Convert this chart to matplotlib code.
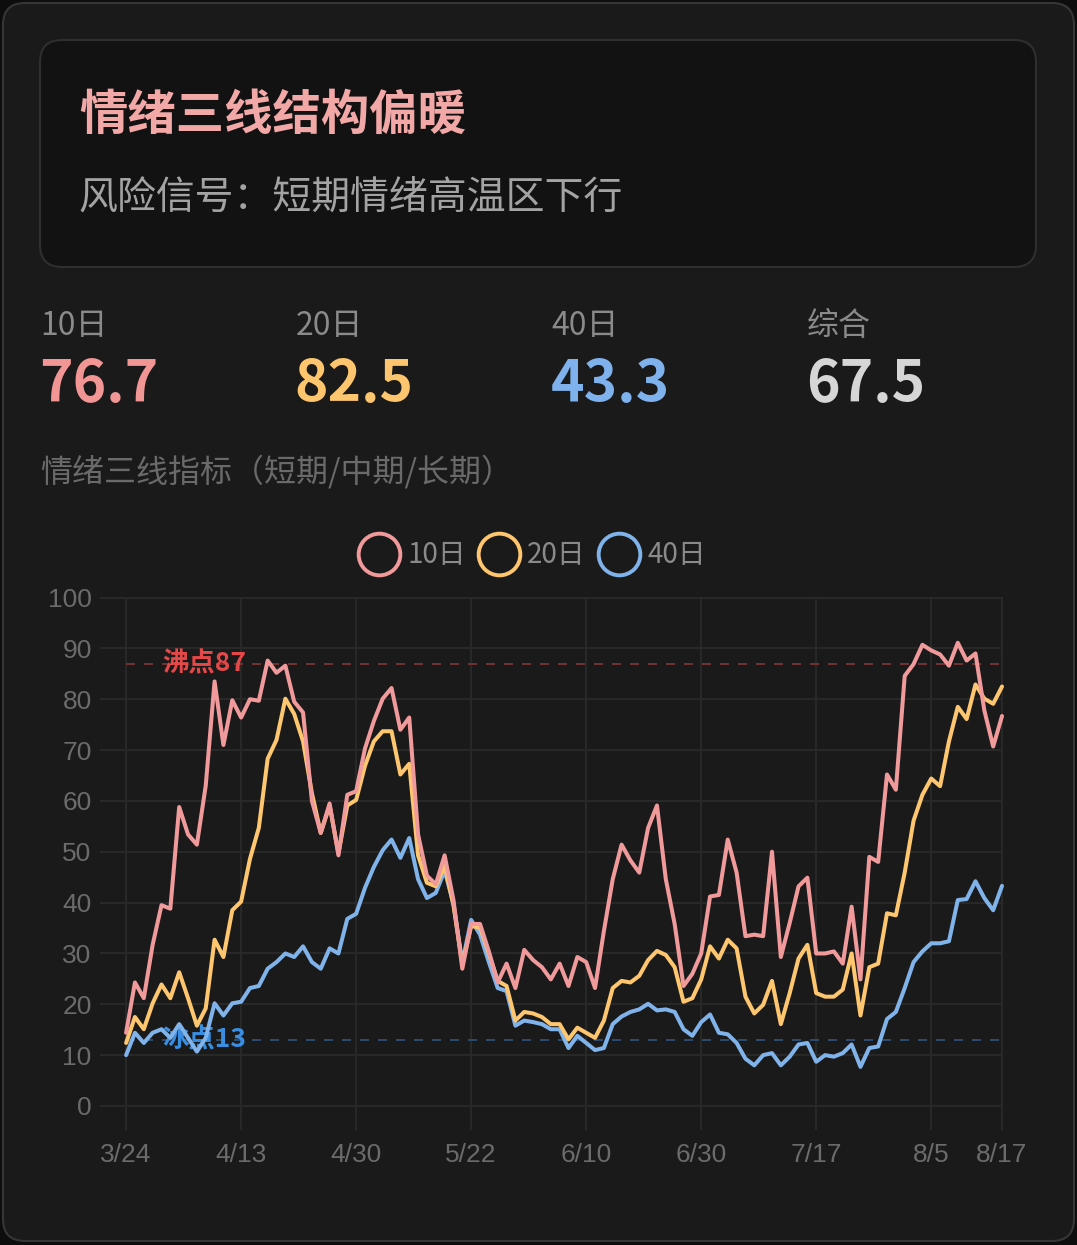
import matplotlib
matplotlib.use("Agg")
import matplotlib.pyplot as plt
from matplotlib.patches import FancyBboxPatch

plt.rcParams['font.family'] = ['Noto Sans CJK SC', 'DejaVu Sans']

# ---- data ----
title = "情绪三线结构偏暖"
subtitle = "风险信号：短期情绪高温区下行"
section_label = "情绪三线指标（短期/中期/长期）"

stat_names = ["10日", "20日", "40日", "综合"]
stat_values = ["76.7", "82.5", "43.3", "67.5"]

series_names = ["10日", "20日", "40日"]

line_10 = [14.4, 24.3, 21.2, 31.7, 39.5, 38.8, 58.8, 53.4, 51.4, 63.0,
           83.5, 71.0, 79.8, 76.4, 80.0, 79.7, 87.6, 85.2, 86.6, 79.5,
           77.4, 60.0, 53.7, 59.5, 49.3, 61.2, 61.9, 70.3, 75.7, 80.1,
           82.2, 74.0, 76.4, 53.4, 45.3, 43.6, 49.3, 40.5, 27.0, 35.8,
           35.8, 30.4, 24.3, 28.0, 23.2, 30.7, 28.7, 27.3, 24.9, 28.0,
           23.6, 29.3, 28.3, 23.2, 34.4, 44.6, 51.4, 48.3, 45.9, 54.7,
           59.1, 44.6, 35.8, 23.6, 26.0, 30.0, 41.2, 41.5, 52.4, 45.9,
           33.4, 33.7, 33.4, 50.0, 29.3, 36.0, 43.2, 44.9, 30.0, 30.0,
           30.4, 28.0, 39.2, 24.9, 49.0, 48.0, 65.2, 62.2, 84.6, 86.9,
           90.7, 89.6, 88.8, 86.6, 91.1, 87.6, 89.0, 77.8, 70.7, 76.7]

line_20 = [12.4, 17.5, 15.1, 20.2, 23.9, 21.2, 26.3, 21.2, 15.8, 19.2,
           32.7, 29.3, 38.5, 40.2, 48.6, 54.7, 68.3, 72.0, 80.1, 77.1,
           71.7, 61.5, 53.7, 59.1, 49.7, 59.1, 60.2, 66.9, 71.7, 73.7,
           73.7, 65.2, 67.3, 49.3, 43.9, 43.2, 47.3, 39.5, 27.8, 35.4,
           35.1, 30.0, 24.6, 23.6, 16.8, 18.5, 18.2, 17.5, 16.1, 16.1,
           13.1, 15.4, 14.4, 13.4, 16.8, 23.2, 24.6, 24.3, 25.6, 28.7,
           30.5, 29.7, 27.3, 20.5, 21.2, 24.9, 31.4, 29.0, 32.7, 31.0,
           21.5, 18.2, 19.9, 24.6, 16.1, 22.2, 29.0, 31.7, 22.2, 21.5,
           21.5, 22.9, 30.0, 17.8, 27.3, 28.0, 37.9, 37.5, 45.9, 56.1,
           61.2, 64.4, 62.9, 71.7, 78.5, 76.1, 82.9, 80.1, 79.1, 82.5]

line_40 = [10.0, 14.4, 12.4, 14.4, 15.1, 13.4, 16.1, 13.4, 10.7, 13.4,
           20.2, 17.8, 20.2, 20.5, 23.2, 23.6, 27.0, 28.3, 30.0, 29.3,
           31.4, 28.3, 27.0, 31.0, 30.0, 36.8, 37.8, 42.9, 47.0, 50.3,
           52.4, 48.8, 52.7, 44.6, 40.9, 41.9, 46.3, 39.8, 28.2, 36.6,
           33.7, 28.3, 23.2, 22.6, 15.8, 16.8, 16.5, 16.1, 15.1, 15.1,
           11.4, 13.8, 12.4, 11.0, 11.4, 16.1, 17.6, 18.5, 19.0, 20.1,
           18.8, 19.0, 18.5, 15.1, 13.8, 16.5, 18.0, 14.4, 14.1, 12.4,
           9.3, 8.0, 10.0, 10.4, 8.0, 9.7, 12.1, 12.4, 8.7, 10.0,
           9.7, 10.4, 12.1, 7.7, 11.4, 11.7, 17.1, 18.5, 23.2, 28.3,
           30.4, 32.0, 32.0, 32.4, 40.5, 40.7, 44.2, 40.9, 38.5, 43.3]

tick_index = [0, 13, 26, 39, 52, 65, 78, 91, 99]
tick_labels = ["3/24", "4/13", "4/30", "5/22", "6/10", "6/30", "7/17", "8/5", "8/17"]

boil_level = 87
freeze_level = 13

# ---- style ----
line_colors = ["#f19a9c", "#fec76f", "#80b3ea"]
stat_colors = ["#f19595", "#fdc56d", "#7fb2ec", "#d6d6d6"]
W, H = 1077, 1245

fig = plt.figure(figsize=(W / 100, H / 100), dpi=100)
fig.patch.set_facecolor("#0d0d0d")

# background layer in pixel coordinates
bg = fig.add_axes([0, 0, 1, 1])
bg.set_xlim(0, W)
bg.set_ylim(H, 0)
bg.axis("off")

bg.add_patch(FancyBboxPatch((3, 3), W - 6, H - 7,
                            boxstyle="round,pad=0,rounding_size=22",
                            fc="#1a1a1a", ec="#363636", lw=1.5))
bg.add_patch(FancyBboxPatch((40, 40), 996, 227,
                            boxstyle="round,pad=0,rounding_size=22",
                            fc="#121212", ec="#2f2f2f", lw=1.5))

bg.text(79, 115, title, fontsize=34.8, fontweight="heavy", color="#f3a8a8", va="center")
bg.text(78, 198, subtitle, fontsize=28, color="#a3a3a3", va="center")

for i, (name, val) in enumerate(zip(stat_names, stat_values)):
    x0 = 40 + i * 255.7
    bg.text(x0, 326, name, fontsize=23, color="#8a8a8a", va="center")
    bg.text(x0 - 1, 385, val, fontsize=41, fontweight="bold", color=stat_colors[i], va="center")

bg.text(40, 472, section_label, fontsize=23, color="#6a6a6a", va="center")

# legend
for i, name in enumerate(series_names):
    cx = 379 + i * 120
    bg.plot([cx], [554], marker="o", ms=30, mfc="none", mec=line_colors[i], mew=2.8)
    bg.text(cx + 28, 555, name, fontsize=20, color="#8a8a8a", va="center", ha="left")

# ---- chart ----
ax = fig.add_axes([100 / W, 1 - 1130 / H, 903 / W, (1130 - 596.5) / H])
ax.set_facecolor("none")
for s in ax.spines.values():
    s.set_visible(False)

n = len(line_10)
x = list(range(n))
ax.set_xlim(-2.95, n - 1 + 0.11)
ax.set_ylim(-4.72, 100.2)

ax.set_yticks(range(0, 101, 10))
ax.set_xticks(tick_index)
ax.set_xticklabels(tick_labels)
ax.grid(True, color="#282828", lw=1.5)
ax.set_axisbelow(True)
ax.tick_params(length=0, colors="#6b6b6b", labelsize=19)
ax.tick_params(axis="y", pad=6)
ax.tick_params(axis="x", pad=9)
for lab in ax.get_xticklabels() + ax.get_yticklabels():
    lab.set_fontfamily("Liberation Sans")

# threshold lines
ax.hlines(boil_level, 0, n - 1, colors="#6e3232", linestyles=(0, (4.5, 4.5)), lw=1.44, zorder=1.5)
ax.hlines(freeze_level, 0, n - 1, colors="#2c4a6e", linestyles=(0, (4.5, 4.5)), lw=1.44, zorder=1.5)
ax.annotate("沸点%d" % boil_level, xy=(0, boil_level), xytext=(26, 0), textcoords="offset points",
            ha="left", va="center", color="#e44848", fontsize=19, fontweight="bold", zorder=1.6)
ax.annotate("冰点%d" % freeze_level, xy=(0, freeze_level), xytext=(26, 0), textcoords="offset points",
            ha="left", va="center", color="#3a8ee2", fontsize=19, fontweight="bold", zorder=1.6)

# series (first series drawn on top)
for k, (vals, col) in enumerate(zip([line_10, line_20, line_40], line_colors)):
    ax.plot(x, vals, color=col, lw=2.9, solid_joinstyle="round", solid_capstyle="round",
            zorder=3.3 - k * 0.1, clip_on=False)

fig.savefig("out.png", dpi=100, facecolor=fig.get_facecolor())
